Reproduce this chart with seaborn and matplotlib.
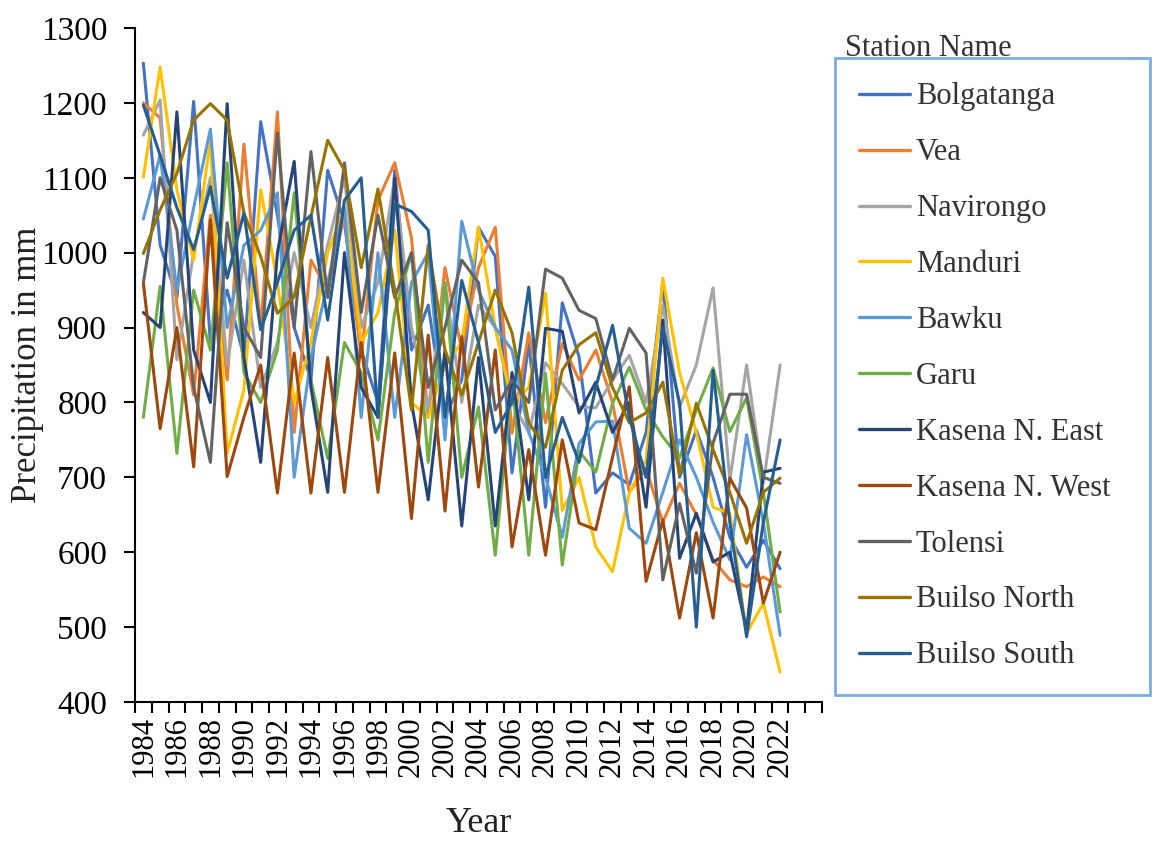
import numpy as np
import pandas as pd
import matplotlib
matplotlib.use("Agg")
import matplotlib.pyplot as plt
from matplotlib.lines import Line2D
from matplotlib.ticker import MultipleLocator, FixedLocator
import seaborn as sns

years = list(range(1984, 2023))

stations = ["Bolgatanga", "Vea", "Navirongo", "Manduri", "Bawku", "Garu",
            "Kasena N. East", "Kasena N. West", "Tolensi", "Builso North", "Builso South"]

colors = ["#4472C4", "#ED7D31", "#A5A5A5", "#FFC000", "#5B9BD5", "#70AD47",
          "#264478", "#9E480E", "#636363", "#997300", "#255E91"]

bolgatanga = [1253, 1010, 940, 1202, 880, 950, 860, 1175, 1050, 900, 830, 1110, 1040, 870, 800, 1110, 870, 930, 780, 830,
              1034, 995, 706, 880, 660, 933, 861, 679, 706, 690, 760, 960, 700, 763, 700, 620, 580, 616, 578]
vea = [1200, 1180, 930, 810, 1050, 830, 1145, 900, 1188, 760, 990, 950, 1050, 860, 1070, 1120, 1020, 780, 980, 870,
       980, 1034, 759, 893, 773, 879, 830, 870, 800, 680, 712, 640, 692, 650, 590, 563, 554, 567, 554]
navirongo = [1157, 1204, 857, 1000, 1100, 850, 990, 820, 880, 1000, 900, 1010, 1100, 900, 960, 1100, 900, 790, 960, 800,
             930, 900, 800, 760, 853, 825, 794, 793, 830, 863, 800, 930, 794, 850, 953, 696, 850, 692, 850]
manduri = [1101, 1248, 1084, 990, 1150, 732, 817, 1084, 960, 800, 880, 1000, 1060, 880, 920, 1030, 800, 780, 850, 880,
           1034, 900, 800, 820, 946, 656, 700, 607, 574, 679, 723, 966, 840, 760, 660, 652, 492, 532, 440]
bawku = [1045, 1130, 950, 1060, 1165, 900, 1010, 1030, 1080, 700, 860, 960, 1060, 780, 1000, 780, 960, 1000, 750, 1042,
         950, 900, 870, 760, 700, 620, 745, 774, 775, 632, 612, 680, 750, 700, 640, 590, 757, 640, 489]
garu = [780, 955, 732, 950, 870, 1120, 840, 800, 870, 1080, 830, 725, 880, 840, 750, 920, 1000, 720, 960, 700,
        794, 596, 830, 596, 839, 583, 735, 707, 799, 847, 790, 754, 726, 790, 846, 761, 806, 680, 520]
kasena_east = [920, 900, 1188, 870, 800, 1199, 860, 720, 1000, 1122, 820, 680, 1000, 820, 780, 1100, 800, 670, 870, 635,
               860, 635, 840, 670, 899, 895, 786, 827, 760, 800, 660, 910, 592, 652, 587, 600, 495, 707, 712]
kasena_west = [959, 765, 900, 714, 1044, 701, 780, 850, 679, 866, 679, 860, 680, 880, 680, 866, 645, 890, 655, 888,
               687, 870, 607, 737, 596, 750, 639, 630, 727, 821, 561, 643, 512, 626, 512, 699, 659, 532, 600]
tolensi = [960, 1100, 1030, 820, 720, 1040, 900, 860, 1160, 900, 1135, 940, 1120, 920, 1050, 940, 1000, 820, 900, 990,
           960, 790, 830, 800, 978, 966, 923, 912, 830, 899, 866, 563, 665, 572, 746, 811, 811, 700, 692]
builso_north = [999, 1057, 1106, 1177, 1199, 1177, 1053, 995, 919, 941, 1048, 1150, 1110, 980, 1085, 950, 790, 1010, 870, 810,
                880, 950, 893, 773, 740, 843, 877, 893, 820, 773, 786, 827, 703, 799, 737, 680, 612, 680, 699]
builso_south = [1197, 1130, 1060, 1004, 1088, 966, 1053, 897, 960, 1030, 1050, 910, 1070, 1100, 780, 1065, 1055, 1030, 780, 963,
                880, 760, 800, 954, 700, 780, 720, 820, 903, 780, 700, 900, 799, 500, 843, 640, 487, 640, 750]

series = [bolgatanga, vea, navirongo, manduri, bawku, garu, kasena_east, kasena_west,
          tolensi, builso_north, builso_south]

frames = []
for name, vals in zip(stations, series):
    frames.append(pd.DataFrame({"Year": years, "Precipitation": vals, "Station": name}))
df = pd.concat(frames, ignore_index=True)

sns.set_theme(style="white")
plt.rcParams["font.family"] = ["Liberation Serif", "DejaVu Serif"]

fig = plt.figure(figsize=(11.52, 8.47), dpi=100)
ax = fig.add_axes([135 / 1152, 1 - 702 / 847, (822 - 135) / 1152, (702 - 28) / 847])

palette = dict(zip(stations, colors))
sns.lineplot(data=df, x="Year", y="Precipitation", hue="Station", hue_order=stations,
             palette=palette, linewidth=2.2, legend=False, ax=ax, estimator=None)

ax.set_ylim(400, 1300)
ax.set_xlim(1983.5, 2024.5)
ax.yaxis.set_major_locator(MultipleLocator(100))
ax.set_xticks(list(range(1984, 2023, 2)))
ax.set_xticklabels([str(y) for y in range(1984, 2023, 2)], rotation=90)
ax.xaxis.set_minor_locator(FixedLocator(np.arange(1983.5, 2025, 1.0)))
ax.tick_params(axis="x", which="major", length=0, labelsize=22, pad=10, colors="black")
ax.tick_params(axis="x", which="minor", length=8, width=1.5, direction="out", color="black", bottom=True)
ax.tick_params(axis="y", which="major", length=8, width=1.5, direction="out", labelsize=24, pad=12,
               left=True, colors="black")
for s in ["top", "right"]:
    ax.spines[s].set_visible(False)
for s in ["left", "bottom"]:
    ax.spines[s].set_color("black")
    ax.spines[s].set_linewidth(1.5)
ax.set_ylabel("")
ax.set_xlabel("Year", fontsize=26, color="#222222", labelpad=22)
ax.grid(False)
fig.text(28 / 1152, 1 - 365 / 847, "Precipitation in mm", rotation=90, fontsize=25,
         color="#222222", ha="center", va="center")

handles = [Line2D([0], [0], color=c, linewidth=2.4) for c in colors]
leg = fig.legend(handles, stations, loc="upper left",
                 bbox_to_anchor=(835 / 1152, 1 - 690 / 847, (1150 - 835) / 1152, (690 - 58) / 847),
                 mode="expand", frameon=True, fontsize=22, handlelength=1.65, handletextpad=0.2,
                 labelspacing=0.88, borderpad=0.8, borderaxespad=0, fancybox=False)
leg.get_frame().set_edgecolor("#5B9BD5")
leg.get_frame().set_linewidth(2)
for t in leg.get_texts():
    t.set_color("#333333")
fig.text(845 / 1152, 1 - 48 / 847, "Station Name", fontsize=22, color="#333333", va="center", ha="left")

fig.savefig("out.png", dpi=100)
